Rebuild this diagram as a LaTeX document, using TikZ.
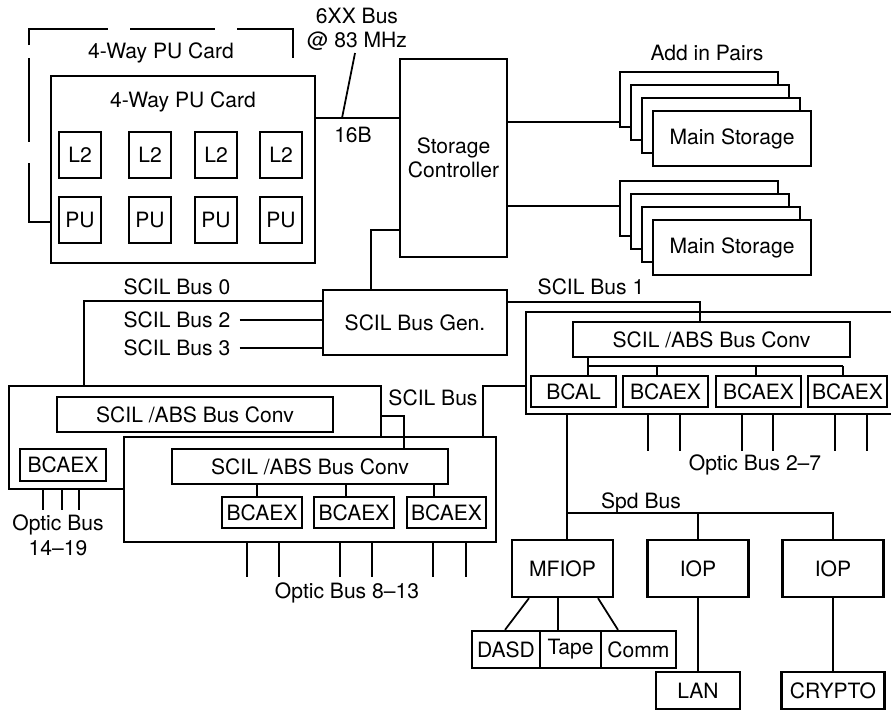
\documentclass[tikz,border=0pt]{standalone}
\usepackage{fontspec}
\setmainfont{TeX Gyre Heros}

\begin{document}
\begin{tikzpicture}[x=0.02cm,y=-0.02cm,
  box/.style={draw,line width=1.3pt,fill=white,inner sep=0pt},
  sz/.style 2 args={minimum width=#1*0.02cm,minimum height=#2*0.02cm},
  wire/.style={line width=1pt},
  txt/.style={inner sep=0pt,align=center},
  font=\fontsize{12}{14}\selectfont]
\useasboundingbox (0,0) rectangle (891,711);
\clip (0,0) rectangle (891,711);

% back card, broken outline
\draw[line width=1.3pt] (29,45) -- (29,29) -- (108,29);
\draw[line width=1.3pt] (130,29) -- (215,29);
\draw[line width=1.3pt] (237,29) -- (293,29) -- (293,58);
\draw[line width=1.3pt] (29,58) -- (29,142);
\draw[line width=1.3pt] (29,163) -- (29,222) -- (51,222);
\node[txt] (backlbl) at (161,53) {4-Way PU Card};

% front card
\node[box,sz={264}{187}] (card) at (183,169.5) {};
\node[txt] (cardlbl) at (183,102) {4-Way PU Card};
\foreach \x [count=\i] in {80,150,216,281}{
  \node[box,sz={42}{46}] (ltwo\i) at (\x,155) {L2};
  \node[box,sz={42}{46}] (pu\i) at (\x,220) {PU};
}

% storage controller and 6XX bus
\node[box,sz={107}{198},align=center] (stc) at (453.5,158) {Storage\\Controller};
\coordinate (bustap) at (342,118);
\coordinate (busend) at (355,53);
\draw[wire] (card.east |- bustap) -- (stc.west |- bustap);
\draw[wire] (bustap) -- (busend);
\node[txt] (buslbl) at (357,29.5) {6XX Bus\\@ 83 MHz};
\node[txt] (widthlbl) at (353,135) {16B};

% main storage, stacked
\node[txt] (pairs) at (707,53) {Add in Pairs};
\foreach \g/\yo in {a/0,b/109}{
  \foreach \k in {0,1,2}
    \node[box,sz={158}{55}] (ms\g\k) at ({699+11*\k},{99.5+13*\k+\yo}) {};
  \node[box,sz={158}{55}] (ms\g3) at (732,{138.5+\yo}) {Main Storage};
}
\draw[wire] (stc.east |- 0,122) -- (msa0.west |- 0,122);
\draw[wire] (stc.east |- 0,206) -- (msb0.west |- 0,206);

% SCIL bus generator
\node[box,sz={184}{65}] (sgen) at (415,322.5) {SCIL Bus Gen.};
\draw[wire] (stc.west |- 0,230) -| (sgen.north -| 371,0);
\node[txt] (sbus0) at (177,287) {SCIL Bus 0};
\node[txt] (sbus2) at (177,320) {SCIL Bus 2};
\node[txt] (sbus3) at (177,348) {SCIL Bus 3};
\node[txt] (sbus1) at (591,287) {SCIL Bus 1};
\draw[wire] (sbus2.east) ++(9,0) -- (sgen.west |- sbus2);
\draw[wire] (sbus3.east) ++(9,0) -- (sgen.west |- sbus3);

% right converter group
\node[box,sz={374}{102}] (rout) at (713,363) {};
\node[box,sz={277}{35}] (rconv) at (711.5,339.5) {SCIL /ABS Bus Conv};
\node[box,sz={85}{31}] (bcal) at (573.5,391.5) {BCAL};
\node[box,sz={85}{31}] (rbc1) at (665.5,391.5) {BCAEX};
\node[box,sz={85}{31}] (rbc2) at (758.5,391.5) {BCAEX};
\node[box,sz={79}{31}] (rbc3) at (847.5,391.5) {BCAEX};
\coordinate (rbus) at (588,366);
\draw[wire] (rconv.south -| rbus) -- (bcal.north -| rbus);
\draw[wire] (rbus) -- (843,366);
\draw[wire] (657,366) -- (rbc1.north -| 657,0);
\draw[wire] (756,366) -- (rbc2.north -| 756,0);
\draw[wire] (843,366) -- (rbc3.north -| 843,0);
\draw[wire] (sgen.east |- 0,302) -| (rconv.north -| 700,0);
\foreach \x in {648,680,742,773,835,867}
  \draw[wire] (rout.south -| \x,0) -- ++(0,36);
\node[txt] (optic27) at (755,465) {Optic Bus 2\textendash7};

% left converter group
\node[box,sz={372}{103}] (lout) at (195,437.5) {};
\draw[wire] (sgen.west |- 0,301) -| (lout.north -| 84,0);
\node[box,sz={276}{35}] (lconv) at (195,414.5) {SCIL /ABS Bus Conv};
\node[box,sz={86}{32}] (lbc) at (63,465) {BCAEX};
\foreach \x in {43,62,79}
  \draw[wire] (lout.south -| \x,0) -- ++(0,20);
\node[txt] (optic1419) at (58,535) {Optic Bus\\14\textendash19};

% inner converter group
\node[box,sz={372}{105}] (iout) at (310,489.5) {};
\node[box,sz={276}{35}] (iconv) at (310,466.5) {SCIL /ABS Bus Conv};
\node[box,sz={80}{31}] (ibc1) at (262,512.5) {BCAEX};
\node[box,sz={80}{31}] (ibc2) at (354,512.5) {BCAEX};
\node[box,sz={79}{31}] (ibc3) at (446.5,512.5) {BCAEX};
\draw[wire] (iconv.south -| 257,0) -- (ibc1.north -| 257,0);
\draw[wire] (iconv.south -| 346,0) -- (ibc2.north -| 346,0);
\draw[wire] (iconv.south -| 434,0) -- (ibc3.north -| 434,0);
\foreach \x in {247,279,340,372,433,466}
  \draw[wire] (iout.south -| \x,0) -- ++(0,34);
\node[txt] (optic813) at (347,593) {Optic Bus 8\textendash13};
\draw[wire] (lout.east |- 0,416) -| (iconv.north -| 404,0);
\draw[wire] (rout.west |- 0,386) -| (iout.north -| 483,0);
\node[txt] (scilbus) at (433,398) {SCIL Bus};

% I/O side
\node[box,sz={101}{57}] (mfiop) at (562.5,568.5) {MFIOP};
\node[box,sz={101}{57}] (iop1) at (698,568.5) {IOP};
\node[box,sz={101}{57}] (iop2) at (833,568.5) {IOP};
\coordinate (spd) at (567,513);
\draw[wire] (rout.south -| spd) -- (mfiop.north -| spd);
\draw[wire] (spd) -| (iop2.north);
\draw[wire] (iop1.north |- spd) -- (iop1.north);
\node[txt] (spdlbl) at (641,503) {Spd Bus};
\node[box,sz={68}{37}] (dasd) at (506,649.5) {DASD};
\node[box,sz={61}{37}] (tape) at (570.5,649.5) {Tape};
\node[box,sz={75}{37}] (comm) at (638.5,649.5) {Comm};
\draw[wire] (mfiop.south -| 529,0) -- (dasd.north -| 505,0);
\draw[wire] (mfiop.south -| 558,0) -- (tape.north -| 558,0);
\draw[wire] (mfiop.south -| 598,0) -- (comm.north -| 618,0);
\node[box,sz={84}{37}] (lan) at (698,690.5) {LAN};
\node[box,sz={103}{37}] (crypto) at (833,690.5) {CRYPTO};
\draw[wire] (iop1.south) -- (lan.north);
\draw[wire] (iop2.south) -- (crypto.north);
\end{tikzpicture}
\end{document}
